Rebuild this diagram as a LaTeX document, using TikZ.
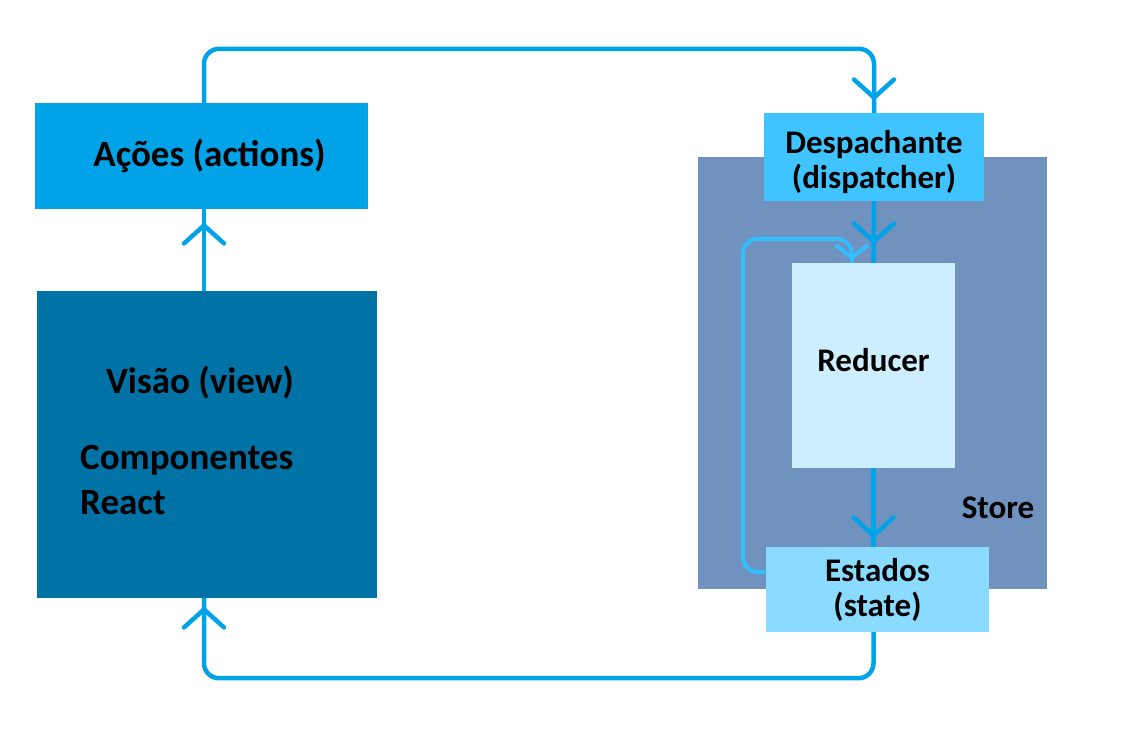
\documentclass[tikz,border=0pt]{standalone}
\usepackage{fontspec}
\setmainfont{Carlito}
\usetikzlibrary{arrows.meta, positioning, decorations.markings}

\definecolor{flowblue}{RGB}{0,162,232}
\definecolor{loopblue}{RGB}{51,191,255}
\definecolor{acoesfill}{RGB}{0,162,232}
\definecolor{visaofill}{RGB}{0,114,166}
\definecolor{storefill}{RGB}{112,146,190}
\definecolor{despfill}{RGB}{64,196,255}
\definecolor{reducfill}{RGB}{204,238,255}
\definecolor{estfill}{RGB}{138,219,255}

\begin{document}
\begin{tikzpicture}[x=1pt, y=-1pt,
    box/.style={rectangle, inner sep=0pt, align=center,
        font=\fontsize{33}{35}\selectfont\bfseries},
    bigtext/.style={inner sep=0pt, align=left,
        font=\fontsize{37}{45}\selectfont\bfseries},
    flow/.style={draw=flowblue, line width=4.5pt, rounded corners=15pt},
    chev/.tip={Straight Barb[length=18pt, width=40pt, line width=4.5pt, round]},
    smallchev/.tip={Straight Barb[length=12pt, width=30pt, line width=4pt, round]},
    tipat/.style={postaction={decorate},
        decoration={markings, mark=at position #1 with {\arrow{chev}}}},
    smalltipat/.style={postaction={decorate},
        decoration={markings, mark=at position #1 with {\arrow{smallchev}}}}]
    \useasboundingbox (0,0) rectangle (1141,747);

    % store area
    \node[box, fill=storefill, minimum width=349pt, minimum height=432pt] (store) at (872.5,373) {};
    \node[box] (storelbl) at (998,508) {Store};

    % boxes
    \node[box, fill=acoesfill, minimum width=333pt, minimum height=106pt,
        font=\fontsize{37}{45}\selectfont\bfseries] (acoes) at (201.5,156) {\hspace*{16pt}Ações (actions)};
    \node[box, fill=visaofill, minimum width=340pt, minimum height=307pt] (visao) at (207,444.5) {};
    \node[bigtext] (visaotit) at (200,383) {Visão (view)};
    \node[bigtext, anchor=west] (comps) at (80,480) {Componentes\\React};
    \node[box, fill=despfill, minimum width=220pt, minimum height=88pt] (desp) at (874,157) {\rule{0pt}{33pt}Despachante\\(dispatcher)};
    \node[box, fill=reducfill, minimum width=163pt, minimum height=205pt] (reducer) at (873.5,365.5) {Reducer\rule[-12pt]{0pt}{12pt}};
    \node[box, fill=estfill, minimum width=223pt, minimum height=85pt] (estados) at (877.5,589.5) {Estados\\(state)};

    % connectors
    \draw[flow, tipat=-14pt] ([xshift=-3pt]visao.north) -- ([xshift=2.5pt]acoes.south);
    \draw[flow, tipat=-13pt] ([xshift=2.5pt]acoes.north) -- ++(0,-54) -| (desp.north);
    \draw[flow, tipat=-19pt] (desp.south) -- (reducer.north);
    \draw[flow, tipat=-9pt] (reducer.south) -- (reducer.south |- estados.north);
    \draw[flow, tipat=-9pt] (reducer.south |- estados.south) -- ++(0,46) -| ([xshift=-3pt]visao.south);
    \draw[flow, draw=loopblue, line width=4pt, smalltipat=-3pt] ([yshift=17.5pt]estados.west)
        -| ([xshift=-49pt, yshift=24pt]reducer.north west) -| ([xshift=60pt]reducer.north west);
\end{tikzpicture}
\end{document}
